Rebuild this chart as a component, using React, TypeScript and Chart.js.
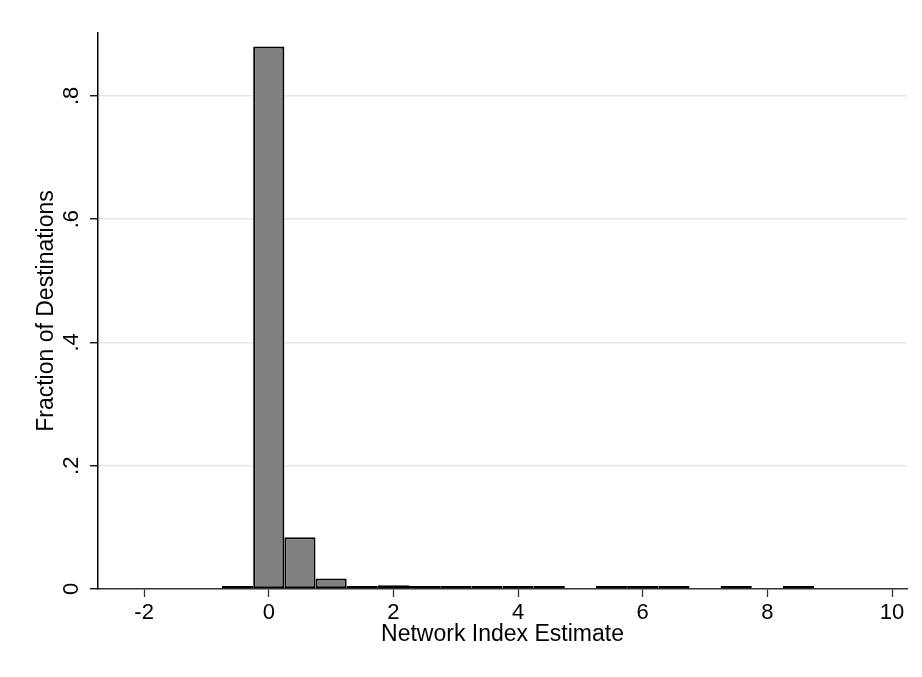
import React, { useEffect, useRef } from "react";
import { Chart, registerables } from "chart.js";

Chart.register(...registerables);

// Histogram bins (bin width 0.5), centers and fractions; empty bins omitted
const binCenters = [-0.5, 0, 0.5, 1, 1.5, 2, 2.5, 3, 3.5, 4, 4.5, 5.5, 6, 6.5, 7.5, 8.5];
const fractions = [0.002, 0.88, 0.084, 0.017, 0.002, 0.006, 0.002, 0.002, 0.002, 0.002, 0.002, 0.002, 0.002, 0.002, 0.002, 0.002];

const xTickValues = [-2, 0, 2, 4, 6, 8, 10];
const yTickValues = [0, 0.2, 0.4, 0.6, 0.8];
const yTickLabels = ["0", ".2", ".4", ".6", ".8"];

const xTitle = "Network Index Estimate";
const yTitle = "Fraction of Destinations";

const FONT = "'Liberation Sans', Arial, Helvetica, sans-serif";

export default function App() {
  const ref = useRef<HTMLCanvasElement | null>(null);

  useEffect(() => {
    if (!ref.current) return;
    const chart = new Chart(ref.current, {
      type: "bar",
      data: {
        datasets: [
          {
            data: binCenters.map((x, i) => ({ x, y: fractions[i] })),
            backgroundColor: "#808080",
            borderColor: "#000000",
            borderWidth: 2,
            borderSkipped: false,
            barPercentage: 1,
            categoryPercentage: 1,
            minBarLength: 3,
            inflateAmount: 0,
          } as any,
        ],
      },
      options: {
        animation: false,
        responsive: false,
        maintainAspectRatio: false,
        layout: { padding: { top: 33, right: 15, left: 0, bottom: 0 } },
        plugins: {
          legend: { display: false },
          tooltip: { enabled: false },
          title: { display: false },
        },
        scales: {
          x: {
            type: "linear",
            min: -2.74,
            max: 10.24,
            offset: false,
            afterBuildTicks: (scale: any) => {
              scale.ticks = xTickValues.map((v) => ({ value: v }));
            },
            afterFit: (scale: any) => {
              scale.height = 88;
            },
            ticks: {
              color: "#000",
              font: { family: FONT, size: 22 },
              padding: 3,
              maxRotation: 0,
              minRotation: 0,
              autoSkip: false,
              callback: (v: any) => String(v),
            },
            grid: {
              display: true,
              offset: false,
              drawOnChartArea: false,
              drawTicks: true,
              tickLength: 8,
              tickColor: "#333",
              tickWidth: 1.3,
            },
            border: { display: true, color: "#333", width: 1.5 },
            title: {
              display: true,
              text: xTitle,
              color: "#000",
              font: { family: FONT, size: 23 },
              padding: { top: 0, bottom: 29 },
            },
          },
          y: {
            type: "linear",
            min: 0,
            max: 0.902,
            afterBuildTicks: (scale: any) => {
              scale.ticks = yTickValues.map((v) => ({ value: v }));
            },
            afterFit: (scale: any) => {
              scale.width = 98;
            },
            ticks: {
              color: "#000",
              font: { family: FONT, size: 22 },
              padding: 9,
              minRotation: 90,
              maxRotation: 90,
              crossAlign: "center",
              autoSkip: false,
              callback: (v: any) => {
                const i = yTickValues.findIndex((t) => Math.abs(t - v) < 1e-9);
                return i >= 0 ? yTickLabels[i] : "";
              },
            },
            grid: {
              display: true,
              drawOnChartArea: true,
              color: (ctx: any) => (ctx.tick && ctx.tick.value === 0 ? "rgba(0,0,0,0)" : "#e8e8e8"),
              lineWidth: 1.5,
              drawTicks: true,
              tickLength: 8,
              tickColor: "#000",
              tickWidth: 1.3,
            },
            border: { display: true, color: "#000", width: 1.5 },
            title: {
              display: true,
              text: yTitle,
              color: "#000",
              font: { family: FONT, size: 23 },
              padding: { top: 33, bottom: 0 },
            },
          },
        },
      } as any,
    });
    return () => chart.destroy();
  }, []);

  return (
    <div style={{ position: "fixed", left: 0, top: 0, width: 922, height: 677, background: "#fff" }}>
      <canvas ref={ref} width={922} height={677} />
    </div>
  );
}
